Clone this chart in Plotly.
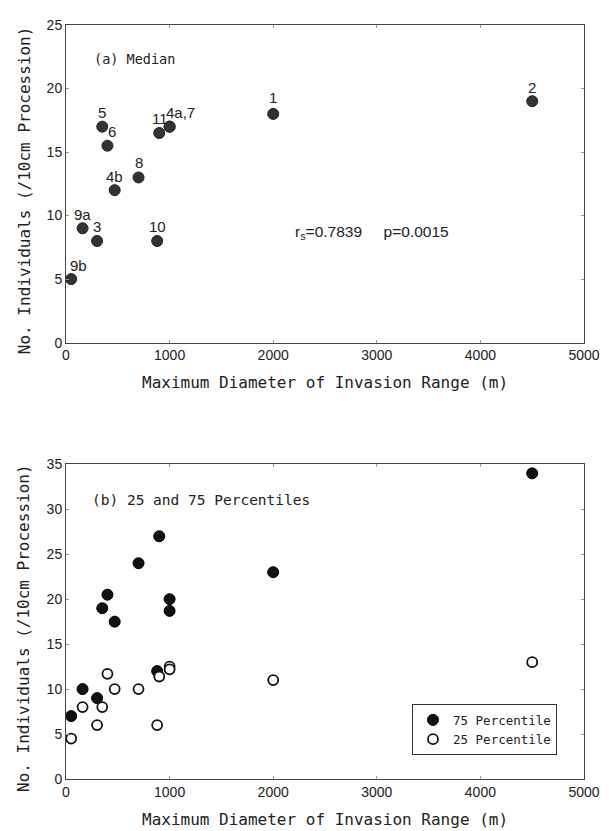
import plotly.graph_objects as go
from plotly.subplots import make_subplots

# ---- data ----
sites = ["1", "2", "3", "4a", "4b", "5", "6", "7", "8", "9a", "9b", "10", "11"]
point_labels = ["1", "2", "3", "4a,7", "4b", "5", "6", "", "8", "9a", "9b", "10", "11"]
diameter_m = [2000, 4500, 300, 1000, 470, 350, 400, 1000, 700, 160, 50, 880, 900]
median = [18, 19, 8, 17, 12, 17, 15.5, 17, 13, 9, 5, 8, 16.5]
p75 = [23, 34, 9, 20, 17.5, 19, 20.5, 18.7, 24, 10, 7, 12, 27]
p25 = [11, 13, 6, 12.5, 10, 8, 11.7, 12.2, 10, 8, 4.5, 6, 11.4]
x_ticks = [0, 1000, 2000, 3000, 4000, 5000]
y_ticks_a = [0, 5, 10, 15, 20, 25]
y_ticks_b = [0, 5, 10, 15, 20, 25, 30, 35]

# label offsets (style, in px) for the site labels, same order as sites
label_dx = [0, 0, 0, 11, 0, 0, 5, 0, 0, 0, 7, 0, 1]
label_dy = [16, 14, 14, 14, 14, 14, 14, 14, 15, 14, 14, 14, 14]

# The page body has an 8px margin, so the figure is laid out 8px in from the
# window's top-left corner.
OFF = 8
W, H = 614 - OFF, 831 - OFF
PL, PR, PT, PB = 66 - OFF, 584 - OFF, 17 - OFF, 779 - OFF   # plot area in figure px
ML, MR, MT, MB = PL, W - PR, PT, H - PB
plot_h = PB - PT
plot_w = PR - PL
top_bottom_px, bot_top_px = 338 - OFF, 461 - OFF
top_dom = [(PB - top_bottom_px) / plot_h, 1.0]
bot_dom = [0.0, (PB - bot_top_px) / plot_h]

MONO = "DejaVu Sans Mono, Liberation Mono, monospace"
SANS = "Liberation Sans, Arial, sans-serif"

fig = make_subplots(rows=2, cols=1)

# median markers
fig.add_trace(go.Scatter(
    x=diameter_m, y=median, mode="markers",
    marker=dict(size=11, color="#333", line=dict(color="#222", width=1)),
    showlegend=False), row=1, col=1)

fig.add_trace(go.Scatter(
    x=diameter_m, y=p75, mode="markers", name="75 Percentile",
    marker=dict(size=11, color="#111", line=dict(color="#000", width=1))),
    row=2, col=1)
fig.add_trace(go.Scatter(
    x=diameter_m, y=p25, mode="markers", name="25 Percentile",
    marker=dict(size=10, color="white", line=dict(color="#111", width=1.8))),
    row=2, col=1)

axis_common = dict(showgrid=False, zeroline=False, showline=True, linecolor="#444",
                   linewidth=1, mirror="ticks", ticks="inside", ticklen=3,
                   tickcolor="#999", tickfont=dict(family=SANS, size=14, color="#222"))

fig.update_xaxes(range=[0, 5000], tickvals=x_ticks, **axis_common)
fig.update_yaxes(**axis_common)
fig.update_yaxes(range=[0, 25], tickvals=y_ticks_a, domain=top_dom, row=1, col=1)
fig.update_yaxes(range=[0, 35], tickvals=y_ticks_b, domain=bot_dom, row=2, col=1)

top_h = top_bottom_px - PT
bot_h = PB - bot_top_px

ann = []
# site labels (sites 4a and 7 share one label)
for i, t in enumerate(point_labels):
    if not t:
        continue
    ann.append(dict(text=t, xref="x", yref="y", x=diameter_m[i], y=median[i],
                    xanchor="center", yanchor="middle", xshift=label_dx[i],
                    yshift=label_dy[i], showarrow=False,
                    font=dict(family=SANS, size=15, color="#222")))

xtitle = "Maximum Diameter of Invasion Range (m)"
ytitle = "No. Individuals (/10cm Procession)"
for xa, ya in (("x", "y"), ("x2", "y2")):
    ann.append(dict(text=xtitle, xref=xa + " domain", yref=ya + " domain", x=0.5, y=0,
                    xanchor="center", yanchor="middle", yshift=-40, showarrow=False,
                    font=dict(family=MONO, size=16, color="#222")))
    ann.append(dict(text=ytitle, xref=xa + " domain", yref=ya + " domain", x=0, y=0.48,
                    xanchor="center", yanchor="middle", xshift=-42, textangle=-90,
                    showarrow=False, font=dict(family=MONO, size=16, color="#222")))

ann.append(dict(text="(a) Median", xref="x domain", yref="y domain", x=(92 - 66) / plot_w,
                y=(338 - 51) / top_h, xanchor="left", yanchor="middle", showarrow=False,
                font=dict(family=MONO, size=13.5, color="#222")))
ann.append(dict(text="(b) 25 and 75 Percentiles", xref="x2 domain", yref="y2 domain",
                x=(90 - 66) / plot_w, y=(779 - 497) / bot_h, xanchor="left", yanchor="middle",
                showarrow=False, font=dict(family=MONO, size=14.5, color="#222")))
ann.append(dict(text="r<sub>s</sub>=0.7839     p=0.0015", xref="x", yref="y",
                x=2190, y=8.7, xanchor="left", yanchor="middle", showarrow=False,
                font=dict(family=SANS, size=15.5, color="#222")))

fig.update_layout(
    width=W, height=H, margin=dict(l=ML, r=MR, t=MT, b=MB),
    paper_bgcolor="white", plot_bgcolor="white",
    annotations=ann,
    legend=dict(x=(557 - 66) / plot_w, y=(779 - 755) / plot_h, xanchor="right",
                yanchor="bottom", bordercolor="#333", borderwidth=1, bgcolor="white",
                font=dict(family=MONO, size=12.5, color="#222"), tracegroupgap=0,
                itemwidth=30),
)

fig.write_html("out.html")
